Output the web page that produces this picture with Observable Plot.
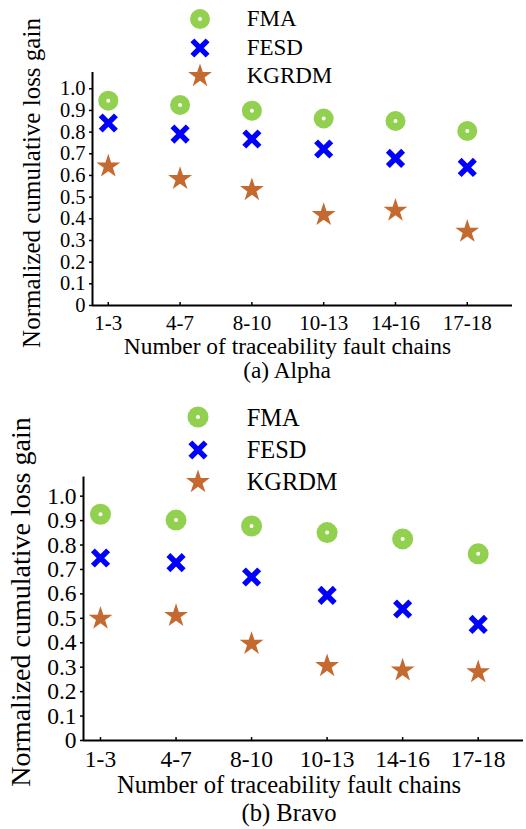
<!DOCTYPE html>
<html><head><meta charset="utf-8">
<script src="https://cdn.jsdelivr.net/npm/d3@7"></script>
<script src="https://cdn.jsdelivr.net/npm/@observablehq/plot@0.6"></script>
<style>
body{margin:0;background:#fff;}
#root{position:relative;width:526px;height:829px;overflow:hidden;color:#000;}
.panel{position:absolute;left:0;width:526px;}
.t{position:absolute;white-space:nowrap;line-height:1;}
.sym{position:absolute;overflow:visible;}
</style></head><body><div id="root"></div>
<script>
// ---- data ----
const categories = ["1-3", "4-7", "8-10", "10-13", "14-16", "17-18"];
const series = ["FMA", "FESD", "KGRDM"];
const alphaFMA   = [0.945, 0.925, 0.899, 0.863, 0.851, 0.805];
const alphaFESD  = [0.842, 0.791, 0.768, 0.722, 0.679, 0.637];
const alphaKGRDM = [0.642, 0.584, 0.533, 0.418, 0.438, 0.341];
const bravoFMA   = [0.926, 0.902, 0.878, 0.851, 0.825, 0.764];
const bravoFESD  = [0.747, 0.728, 0.669, 0.594, 0.538, 0.475];
const bravoKGRDM = [0.499, 0.510, 0.396, 0.305, 0.287, 0.280];
const yTicks = [0, 0.1, 0.2, 0.3, 0.4, 0.5, 0.6, 0.7, 0.8, 0.9, 1.0];
const yLabel = "Normalized cumulative loss gain";
const xLabel = "Number of traceability fault chains";
const captions = ["(a) Alpha", "(b) Bravo"];
const colors = {FMA: "#92d050", FESD: "#0000ff", KGRDM: "#c4692f"};

// pick an installed Times-like font
const candidates = ["Liberation Serif", "Tinos", "Times New Roman", "Nimbus Roman", "DejaVu Serif", "Noto Serif"];
const ctx = document.createElement("canvas").getContext("2d");
function w(font) { ctx.font = font; return ctx.measureText("mmmmwwwwlllliiiiABCxyz0123").width; }
const wm = w("72px monospace"), ws = w("72px sans-serif");
const picked = candidates.find(f => w(`72px "${f}", monospace`) !== wm && w(`72px "${f}", sans-serif`) !== ws);
const FONT = (picked ? `"${picked}",` : "") + "serif";
document.getElementById("root").style.fontFamily = FONT;

// ---- layout ----
const panels = [
  {top: 0, height: 360, mL: 92, mR: 14, mT: 72, mB: 55, xDomain: [-0.22, 5.63], yMax: 1.075,
   tickFont: 21, yTickFont: 20.5, tickPad: 12.5, vals: [alphaFMA, alphaFESD, alphaKGRDM], caption: captions[0],
   legX: 200, legY: [19, 48.3, 76], legText: 246.7, legBase: [26, 55, 83.3], legFont: 23,
   xlBase: 355, xlCx: 287.5, xlFont: 23.4, capBase: 379, capCx: 287, capFont: 23.4,
   ylCx: 31, ylCy: 183, ylFont: 25, ringR: 10},
  {top: 400, height: 370, mL: 83, mR: 3, mT: 76.6, mB: 30, xDomain: [-0.225, 5.60], yMax: 1.078,
   tickFont: 23.5, yTickFont: 23.5, tickPad: 12.7, vals: [bravoFMA, bravoFESD, bravoKGRDM], caption: captions[1],
   legX: 198, legY: [417.3, 450, 481.7], legText: 246.7, legBase: [426, 458.3, 490], legFont: 24.4,
   xlBase: 794, xlCx: 289, xlFont: 24.6, capBase: 821.7, capCx: 289, capFont: 24.6,
   ylCx: 21, ylCy: 602, ylFont: 28, ringR: 10.5}
];
const timesR = 7, timesW = 5.5, starR = 7.5;

const root = document.getElementById("root");
const ASC = 0.8375;

function addText(txt, cx, base, size, extra) {
  const d = document.createElement("div");
  d.className = "t";
  d.textContent = txt;
  d.style.fontSize = size + "px";
  d.style.top = (base - ASC * size) + "px";
  d.style.left = cx + "px";
  if (extra !== "left") d.style.transform = "translateX(-50%)";
  root.appendChild(d);
  return d;
}

function addSymbol(name, cx, cy, p) {
  const s = 40;
  const svg = d3.create("svg").attr("class", "sym").attr("width", s).attr("height", s)
    .style("left", (cx - s / 2) + "px").style("top", (cy - s / 2) + "px");
  const g = svg.append("g").attr("transform", `translate(${s / 2},${s / 2})`);
  if (name === "FMA") {
    g.append("circle").attr("r", p.ringR).attr("fill", colors.FMA);
    g.append("circle").attr("r", 2).attr("fill", "#fff");
  } else if (name === "FESD") {
    g.append("path").attr("d", d3.symbol(d3.symbolTimes, Math.PI * timesR * timesR)())
      .attr("stroke", colors.FESD).attr("stroke-width", timesW).attr("fill", "none");
  } else {
    g.append("path").attr("d", d3.symbol(d3.symbolStar, Math.PI * starR * starR)()).attr("fill", colors.KGRDM);
  }
  root.appendChild(svg.node());
}

panels.forEach(p => {
  const data = [];
  series.forEach((s, si) => p.vals[si].forEach((v, i) => data.push({series: s, i, v})));
  const fma = data.filter(d => d.series === "FMA");
  const fesd = data.filter(d => d.series === "FESD");
  const kg = data.filter(d => d.series === "KGRDM");
  const plot = Plot.plot({
    width: 526, height: p.height,
    marginLeft: p.mL, marginRight: p.mR, marginTop: p.mT, marginBottom: p.mB,
    x: {type: "linear", domain: p.xDomain},
    y: {domain: [0, p.yMax]},
    style: {fontFamily: FONT, fontSize: p.tickFont + "px", color: "#000", background: "transparent", overflow: "visible"},
    marks: [
      Plot.axisY(yTicks, {tickFormat: d => d === 0 ? "0" : d.toFixed(1), tickSize: 3, tickPadding: 4, strokeWidth: 1.5, fontSize: p.yTickFont, label: null}),
      Plot.axisX(categories.map((_, i) => i), {tickFormat: i => categories[i], tickSize: -3, tickPadding: p.tickPad, strokeWidth: 1.5, label: null}),
      Plot.ruleX([p.xDomain[0]], {strokeWidth: 2, stroke: "#000"}),
      Plot.ruleY([0], {strokeWidth: 2, stroke: "#000"}),
      Plot.dot(fma, {x: "i", y: "v", r: p.ringR, fill: colors.FMA}),
      Plot.dot(fma, {x: "i", y: "v", r: 2, fill: "#fff"}),
      Plot.dot(fesd, {x: "i", y: "v", symbol: "times", r: timesR, stroke: colors.FESD, strokeWidth: timesW}),
      Plot.dot(kg, {x: "i", y: "v", symbol: "star", r: starR, fill: colors.KGRDM})
    ]
  });
  const wrap = document.createElement("div");
  wrap.className = "panel";
  wrap.style.top = p.top + "px";
  wrap.appendChild(plot);
  root.appendChild(wrap);

  series.forEach((s, k) => {
    addSymbol(s, p.legX, p.legY[k], p);
    addText(s, p.legText, p.legBase[k], p.legFont, "left");
  });
  addText(xLabel, p.xlCx, p.xlBase, p.xlFont);
  addText(p.caption, p.capCx, p.capBase, p.capFont);
  const yl = document.createElement("div");
  yl.className = "t";
  yl.textContent = yLabel;
  yl.style.fontSize = p.ylFont + "px";
  yl.style.left = p.ylCx + "px";
  yl.style.top = p.ylCy + "px";
  yl.style.transform = "translate(-50%,-50%) rotate(-90deg)";
  root.appendChild(yl);
});
</script>
</body></html>
